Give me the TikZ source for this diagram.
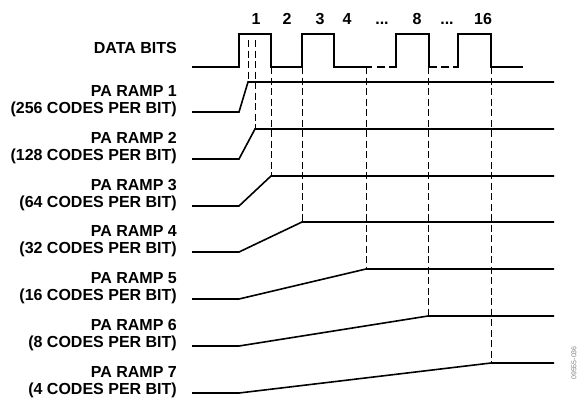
\documentclass[tikz,border=0pt]{standalone}
\usepackage{fontspec}
\setmainfont{Liberation Sans}
\usetikzlibrary{positioning}
\newcommand\bitgap{.{}.{}.}
\tikzset{
  sig/.style={line width=1.6pt},
  guide/.style={line width=0.9pt, dash pattern=on 7pt off 3.5pt},
  lbl/.style={font=\fontsize{16}{17}\selectfont\bfseries, align=right, inner sep=0pt, anchor=east},
  bitnum/.style={font=\fontsize{16}{17}\selectfont\bfseries, inner sep=0pt}
}

\begin{document}
\begin{tikzpicture}[x=1pt, y=-1pt]
    \useasboundingbox (0,0) rectangle (578,397);
    % data bits waveform
    \node[lbl] (data) at (177,48) {DATA BITS};
    \draw[sig] (192,67) -- (239,67) -- (239,34) -- (271,34) -- (271,67) -- (302,67)
        -- (302,34) -- (334,34) -- (334,67) -- (372,67);
    \draw[sig] (377,67) -- (385,67);
    \draw[sig] (389,67) -- (396,67) -- (396,34) -- (429,34) -- (429,67) -- (437,67);
    \draw[sig] (441,67) -- (449,67);
    \draw[sig] (453,67) -- (458,67) -- (458,34) -- (491,34) -- (491,67) -- (523,67);
    \foreach \x/\t [count=\k] in {256/1, 287/2, 320/3, 347/4, 382/\bitgap, 417/8, 447/\bitgap, 483/16}
        \node[bitnum, anchor=base] (bit\k) at (\x,24) {\t};
    % ramps
    \foreach \i/\hy/\ex/\top/\codes in {1/82/248/40/256, 2/129/255/40/128, 3/176/271/67/64,
            4/222/302/67/32, 5/269/366/67/16, 6/316/428/67/8, 7/363/491/67/4} {
        \pgfmathsetmacro\ly{\hy+30}
        \node[lbl] (ramp\i) at (177,\ly-11) {PA RAMP \i\\(\codes\ CODES PER BIT)};
        \draw[sig] (192,\ly) -- (239,\ly) -- (\ex,\hy) -- (554,\hy);
        \draw[guide] (\ex,\top) -- (\ex,\hy);
    }
    \node[font=\fontsize{7}{7}\selectfont, text=gray, rotate=90, inner sep=0pt] (code) at (574,363) {09555-036};
\end{tikzpicture}
\end{document}
